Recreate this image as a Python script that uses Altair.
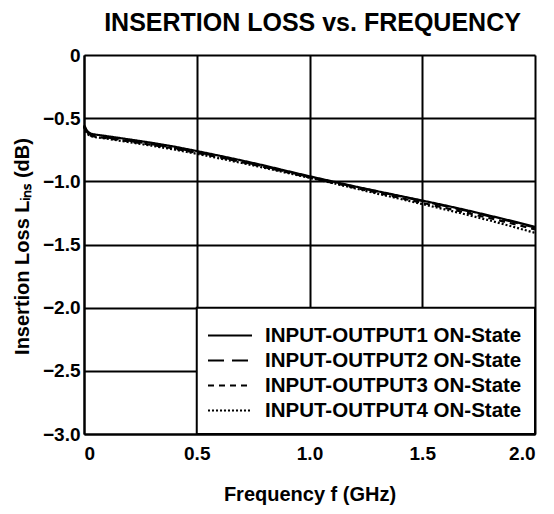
import altair as alt
import pandas as pd

freq = [0, 0.005, 0.01, 0.02, 0.03, 0.05, 0.1, 0.2, 0.3, 0.4, 0.5, 0.6, 0.7, 0.8, 0.9,
        1.0, 1.1, 1.2, 1.3, 1.4, 1.5, 1.6, 1.7, 1.8, 1.9, 2.0]

series_names = ["INPUT-OUTPUT1 ON-State", "INPUT-OUTPUT2 ON-State",
                "INPUT-OUTPUT3 ON-State", "INPUT-OUTPUT4 ON-State"]

s1 = [-0.555, -0.57, -0.59, -0.612, -0.622, -0.63, -0.642, -0.668, -0.695, -0.725, -0.76,
      -0.797, -0.835, -0.875, -0.918, -0.96, -1.0, -1.04, -1.078, -1.115, -1.152, -1.19,
      -1.23, -1.272, -1.315, -1.36]
s2 = [-0.56, -0.58, -0.60, -0.622, -0.632, -0.64, -0.652, -0.678, -0.705, -0.735, -0.768,
      -0.805, -0.843, -0.882, -0.923, -0.965, -1.005, -1.043, -1.08, -1.118, -1.156, -1.195,
      -1.235, -1.277, -1.32, -1.365]
s3 = [-0.565, -0.585, -0.605, -0.628, -0.638, -0.646, -0.658, -0.684, -0.711, -0.741, -0.774,
      -0.81, -0.848, -0.887, -0.928, -0.97, -1.01, -1.05, -1.09, -1.13, -1.17, -1.21,
      -1.25, -1.292, -1.335, -1.38]
s4 = [-0.57, -0.59, -0.61, -0.632, -0.642, -0.65, -0.662, -0.69, -0.718, -0.748, -0.782,
      -0.818, -0.855, -0.893, -0.933, -0.972, -1.013, -1.055, -1.097, -1.138, -1.18, -1.222,
      -1.265, -1.31, -1.358, -1.408]

x_ticks = [0, 0.5, 1.0, 1.5, 2.0]
y_ticks = [0, -0.5, -1.0, -1.5, -2.0, -2.5, -3.0]

rows = []
for name, vals in zip(series_names, [s1, s2, s3, s4]):
    for f, v in zip(freq, vals):
        rows.append({"f": f, "loss": v, "series": name})
df = pd.DataFrame(rows)

FONT = "Liberation Sans"
W = "bold"

xscale = alt.Scale(domain=[0, 2], nice=False, zero=False)
yscale = alt.Scale(domain=[-3, 0], nice=False)

# white box behind the legend (covers the lower-right grid cells)
box_df = pd.DataFrame({"x": [x_ticks[1]], "x2": [x_ticks[-1]],
                       "y": [y_ticks[4]], "y2": [y_ticks[-1]]})
box = alt.Chart(box_df).mark_rect(fill="white", stroke="black", strokeWidth=2).encode(
    x=alt.X("x:Q", scale=xscale,
            axis=alt.Axis(values=x_ticks, title="Frequency  f (GHz)",
                          labelExpr="datum.value == 0 ? '0' : format(datum.value, '.1f')",
                          grid=True, gridColor="black", gridWidth=2, gridOpacity=1,
                          domainColor="black", domainWidth=2, ticks=False,
                          labelFont=FONT, labelFontSize=19, labelFontWeight=W,
                          labelColor="black", labelPadding=10,
                          titleFont=FONT, titleFontSize=20,
                          titleFontWeight=W, titleColor="black", titlePadding=21)),
    x2="x2:Q",
    y=alt.Y("y:Q", scale=yscale,
            axis=alt.Axis(values=y_ticks, title="Insertion Loss  Lᵢₙₛ (dB)",
                          labelExpr="datum.value == 0 ? '0' : format(datum.value, '.1f')",
                          grid=True, gridColor="black", gridWidth=2, gridOpacity=1,
                          domainColor="black", domainWidth=2, ticks=False,
                          labelFont=FONT, labelFontSize=19, labelFontWeight=W,
                          labelColor="black", labelPadding=4,
                          titleFont=FONT, titleFontSize=20,
                          titleFontWeight=W, titleColor="black",
                          titleX=-62, titleY=191, titleAngle=270,
                          titleBaseline="middle", titleAlign="center")),
    y2="y2:Q",
)

lines = alt.Chart(df).mark_line(color="black", strokeWidth=2.2, strokeCap="butt").encode(
    x=alt.X("f:Q", scale=xscale),
    y=alt.Y("loss:Q", scale=yscale),
    strokeDash=alt.StrokeDash(
        "series:N",
        scale=alt.Scale(domain=series_names,
                        range=[[1, 0], [16, 8], [6, 5], [2, 2]]),
        legend=alt.Legend(title=None, orient="none", legendX=123, legendY=268,
                          symbolType="stroke", symbolSize=1936, symbolStrokeWidth=2,
                          symbolStrokeColor="black", clipHeight=25, rowPadding=0,
                          labelFont=FONT, labelFontSize=20.5, labelFontWeight=W,
                          labelColor="black", labelOffset=12, padding=0, labelLimit=400),
    ),
    detail="series:N",
)

chart = alt.layer(box, lines).properties(
    width=451, height=379,
    title=alt.TitleParams("INSERTION LOSS vs. FREQUENCY", font=FONT, fontSize=25,
                          fontWeight=W, color="black", anchor="middle", offset=10,
                          dx=3),
    autosize=alt.AutoSizeParams(type="none"),
    padding={"left": 76, "top": 47, "right": 11, "bottom": 72},
).configure_view(stroke=None).configure(background="white")

chart.save("out.html", embed_options={"renderer": "svg", "actions": False})
